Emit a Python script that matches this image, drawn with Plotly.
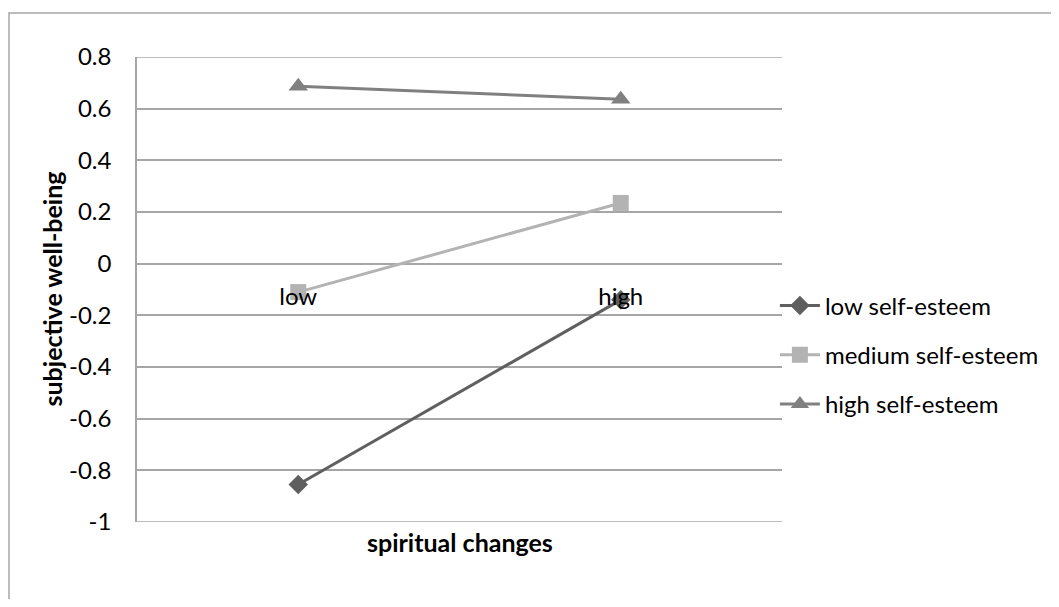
import plotly.graph_objects as go

categories = ["low", "high"]
low_se = [-0.855, -0.14]
medium_se = [-0.11, 0.235]
high_se = [0.687, 0.636]
series_names = ["low self-esteem", "medium self-esteem", "high self-esteem"]
y_ticks = [0.8, 0.6, 0.4, 0.2, 0, -0.2, -0.4, -0.6, -0.8, -1]

FONT = "Lato"
GRID = "#a6a6a6"
FS = 24

# page body has an 8px margin, so the figure is offset by 8px
W, H = 1043, 591
L, T, PW, PH = 129, 49, 645, 465

fig = go.Figure()
styles = [
    (low_se, "#5f5f5f", "diamond", 15),
    (medium_se, "#b3b3b3", "square", 16),
    (high_se, "#808080", "triangle-up", 17),
]
for i, (name, (vals, color, sym, size)) in enumerate(zip(series_names, styles)):
    fig.add_trace(go.Scatter(
        x=[0, 1], y=vals, name=name, mode="lines+markers", legendgroup=f"g{i}",
        line=dict(color=color, width=3),
        marker=dict(symbol=sym, size=size, color=color, line=dict(width=0)),
    ))

ymin, ymax = -1.0, 0.8
fig.update_layout(
    width=W, height=H,
    margin=dict(l=L, r=W - L - PW, t=T, b=H - T - PH, autoexpand=False),
    paper_bgcolor="white", plot_bgcolor="white",
    font=dict(family=FONT, size=FS, color="black"),
    showlegend=True,
    legend=dict(x=0.989, y=(PH - (355 - 57)) / PH, xanchor="left", yanchor="middle",
                font=dict(family=FONT, size=FS, color="black"),
                traceorder="grouped", tracegroupgap=15, itemwidth=40,
                bgcolor="rgba(0,0,0,0)"),
    xaxis=dict(
        range=[-0.5, 1.5], tickmode="array", tickvals=[0, 1], ticktext=categories,
        anchor="free", position=(0 - ymin) / (ymax - ymin), automargin=False,
        showgrid=False, zeroline=False, showline=False,
        ticks="outside", ticklen=0, ticklabelstandoff=12,
        tickfont=dict(family=FONT, size=FS, color="black"),
    ),
    yaxis=dict(
        range=[ymin, ymax], tickmode="array", tickvals=y_ticks,
        ticktext=[("%g" % v) for v in y_ticks], automargin=False,
        showgrid=True, gridcolor=GRID, gridwidth=1.5,
        zeroline=False, showline=True, linecolor=GRID, linewidth=1.5,
        ticks="outside", ticklen=0, ticklabelstandoff=19,
        tickfont=dict(family=FONT, size=FS, color="black"),
    ),
    annotations=[
        dict(text="<b>spiritual changes</b>", xref="paper", yref="paper",
             x=0.5, y=-20 / PH, xanchor="center", yanchor="middle", showarrow=False,
             font=dict(family=FONT, size=25, color="black")),
        dict(text="<b>subjective well-being</b>", xref="paper", yref="paper",
             x=(51 - 137) / PW, y=0.5, xanchor="center", yanchor="middle",
             textangle=-90, showarrow=False,
             font=dict(family=FONT, size=25, color="black")),
    ],
    shapes=[
        dict(type="rect", xref="paper", yref="paper",
             x0=(9 - 137) / PW, x1=2.0, y0=-1.0, y1=(PH + 57 - 13) / PH,
             line=dict(color=GRID, width=1.5), fillcolor="rgba(0,0,0,0)", layer="below"),
        dict(type="line", xref="paper", yref="y", x0=0, x1=1, y0=ymin, y1=ymin,
             line=dict(color=GRID, width=1.5), layer="below"),
        dict(type="line", xref="paper", yref="y", x0=0, x1=1, y0=ymax, y1=ymax,
             line=dict(color=GRID, width=1.5), layer="below"),
    ],
)

fig.write_html("out.html")
